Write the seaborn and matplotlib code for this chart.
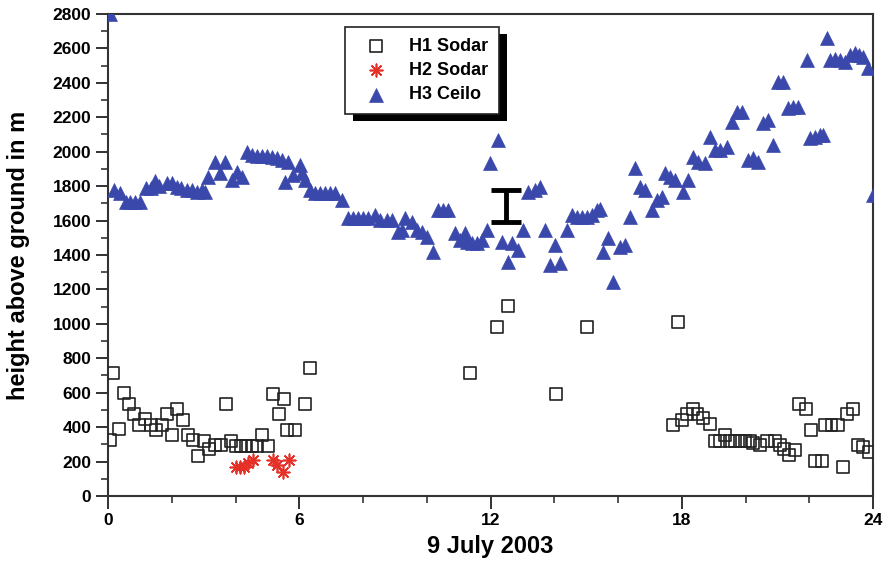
import numpy as np
import pandas as pd
import matplotlib
matplotlib.use("Agg")
import matplotlib.pyplot as plt
import seaborn as sns
from matplotlib.patches import Rectangle
from matplotlib.transforms import IdentityTransform
from matplotlib.ticker import MultipleLocator

# H3 ceilometer cloud-base heights (hour of day, metres)
h3_time = [0.05, 0.2, 0.38, 0.55, 0.7, 0.85, 1.0, 1.2, 1.35, 1.47, 1.6, 1.85, 2.0, 2.15, 2.3,
           2.48, 2.63, 2.8, 2.95, 3.05, 3.14, 3.36, 3.51, 3.67, 3.89, 4.05, 4.2, 4.36, 4.52,
           4.67, 4.83, 5.0, 5.15, 5.3, 5.46, 5.55, 5.65, 5.8, 6.02, 6.09, 6.18, 6.34, 6.49,
           6.65, 6.81, 6.96, 7.12, 7.34, 7.53, 7.69, 7.84, 8.0, 8.16, 8.38, 8.53, 8.75, 8.91,
           9.1, 9.22, 9.32, 9.54, 9.7, 9.85, 10.0, 10.2, 10.35, 10.5, 10.67, 10.89, 11.04,
           11.2, 11.26, 11.42, 11.58, 11.73, 11.89, 11.98, 12.24, 12.36, 12.55, 12.67, 12.86,
           13.02, 13.18, 13.4, 13.55, 13.71, 13.87, 14.02, 14.18, 14.4, 14.56, 14.71, 14.87,
           15.03, 15.18, 15.34, 15.45, 15.53, 15.69, 15.84, 16.06, 16.22, 16.38, 16.53, 16.69,
           16.85, 17.07, 17.22, 17.38, 17.47, 17.63, 17.79, 18.04, 18.2, 18.35, 18.5, 18.73,
           18.89, 19.04, 19.2, 19.42, 19.58, 19.73, 19.89, 20.08, 20.24, 20.39, 20.55, 20.7,
           20.86, 21.02, 21.18, 21.33, 21.49, 21.65, 21.93, 22.02, 22.18, 22.34, 22.43, 22.56,
           22.65, 22.81, 22.96, 23.12, 23.28, 23.44, 23.55, 23.69, 23.84, 24.0]
h3_height = [2800, 1778, 1760, 1708, 1708, 1708, 1708, 1790, 1790, 1830, 1800, 1818, 1818, 1795,
             1789, 1778, 1778, 1766, 1778, 1766, 1853, 1940, 1876, 1940, 1836, 1882, 1853, 1998,
             1981, 1975, 1975, 1975, 1969, 1963, 1952, 1824, 1940, 1865, 1923, 1876, 1836, 1778,
             1760, 1760, 1760, 1760, 1760, 1720, 1615, 1615, 1615, 1615, 1615, 1632, 1603, 1603,
             1603, 1534, 1545, 1615, 1592, 1545, 1534, 1505, 1417, 1661, 1661, 1661, 1528, 1487,
             1528, 1476, 1470, 1470, 1487, 1545, 1934, 2068, 1476, 1359, 1470, 1429, 1545, 1766,
             1778, 1795, 1545, 1342, 1458, 1353, 1545, 1632, 1621, 1621, 1621, 1632, 1661, 1670,
             1417, 1499, 1243, 1446, 1458, 1621, 1905, 1795, 1778, 1661, 1720, 1737, 1876, 1853,
             1836, 1766, 1836, 1969, 1940, 1934, 2085, 2010, 2010, 2027, 2173, 2231, 2231, 1952,
             1963, 1940, 2167, 2184, 2039, 2405, 2405, 2254, 2260, 2260, 2533, 2080, 2085, 2097,
             2097, 2661, 2533, 2539, 2533, 2521, 2562, 2574, 2562, 2550, 2486, 1749]

# H1 sodar layer heights
h1_time = [0.06, 0.16, 0.35, 0.5, 0.66, 0.82, 0.97, 1.16, 1.35, 1.5, 1.69, 1.85, 2.0, 2.16, 2.35,
           2.5, 2.67, 2.82, 3.01, 3.17, 3.36, 3.55, 3.7, 3.86, 4.02, 4.17, 4.33, 4.51, 4.67, 4.83,
           5.02, 5.18, 5.36, 5.52, 5.62, 5.87, 6.18, 6.34, 11.36, 12.2, 12.55, 14.05, 15.03,
           17.73, 17.88, 18.0, 18.16, 18.35, 18.5, 18.67, 18.89, 19.04, 19.2, 19.36, 19.52,
           19.67, 19.83, 19.99, 20.14, 20.24, 20.45, 20.67, 20.93, 21.08, 21.2, 21.36, 21.55,
           21.67, 21.9, 22.05, 22.18, 22.4, 22.5, 22.7, 22.9, 23.06, 23.18, 23.37, 23.53, 23.69,
           23.87]
h1_height = [325, 714, 389, 598, 534, 476, 412, 447, 412, 383, 412, 476, 354, 505, 441, 354, 325,
             232, 320, 273, 296, 296, 534, 320, 290, 290, 290, 290, 290, 354, 290, 592, 476, 563,
             383, 383, 534, 743, 714, 982, 1104, 592, 982, 412, 1011, 441, 476, 505, 476, 453,
             418, 320, 320, 354, 320, 320, 320, 320, 320, 308, 296, 320, 320, 296, 273, 238, 267,
             534, 505, 383, 203, 203, 412, 412, 412, 168, 476, 505, 296, 285, 256]

# H2 sodar layer heights
h2_time = [4.02, 4.14, 4.27, 4.4, 4.55, 5.18, 5.3, 5.49, 5.68]
h2_height = [168, 168, 168, 192, 209, 209, 180, 139, 209]

# typical uncertainty of the ceilometer heights
err_time = 12.49
err_center = 1685
err_half = 93

x_ticks = [0, 6, 12, 18, 24]
series_labels = ["H1 Sodar", "H2 Sodar", "H3 Ceilo"]

sns.set_style("ticks")
plt.rcParams["font.family"] = ["Liberation Sans", "DejaVu Sans"]

fig = plt.figure(figsize=(8.89, 5.64), dpi=100)
ax = fig.add_axes([0.1215, 0.1206, 0.8605, 0.8546])

df1 = pd.DataFrame({"t": h1_time, "h": h1_height})
df2 = pd.DataFrame({"t": h2_time, "h": h2_height})
df3 = pd.DataFrame({"t": h3_time, "h": h3_height})

sns.scatterplot(data=df1, x="t", y="h", ax=ax, marker="s", s=70, facecolor="none",
                edgecolor="#222222", linewidth=1.2, label=series_labels[0], zorder=3)
sns.scatterplot(data=df2, x="t", y="h", ax=ax, marker=(8, 2, 0), s=80, color="#e53027",
                edgecolor="#e53027", linewidth=1.2, label=series_labels[1], zorder=3)
sns.scatterplot(data=df3, x="t", y="h", ax=ax, marker="^", s=100, color="#3b48ab",
                edgecolor="#3b48ab", linewidth=0.5, label=series_labels[2], zorder=3)

ax.errorbar([err_time], [err_center], yerr=[err_half], fmt="none", ecolor="black",
            elinewidth=3.5, capsize=11, capthick=3.5, zorder=4)

ax.set_xlim(0, 24)
ax.set_ylim(0, 2800)
ax.set_xticks(x_ticks)
ax.xaxis.set_minor_locator(MultipleLocator(2))
ax.yaxis.set_major_locator(MultipleLocator(200))
ax.yaxis.set_minor_locator(MultipleLocator(100))
ax.tick_params(axis="both", which="major", direction="out", length=9, width=1.3, pad=3,
               labelsize=12.5, color="#222222", labelcolor="black", top=False, right=False)
ax.tick_params(axis="both", which="minor", direction="out", length=5, width=1.1,
               color="#222222", top=False, right=False)
for lab in ax.get_xticklabels() + ax.get_yticklabels():
    lab.set_fontweight("bold")

for sp in ax.spines.values():
    sp.set_visible(True)
    sp.set_linewidth(1.5)
    sp.set_color("#333333")

ax.set_xlabel("9 July 2003", fontsize=17, fontweight="bold", labelpad=5, color="black")
ax.set_ylabel("height above ground in m", fontsize=17, fontweight="bold", labelpad=16,
              color="black")

leg = ax.legend(loc="upper left", bbox_to_anchor=(0.31, 0.973), frameon=True,
                fancybox=False, framealpha=1, facecolor="white", borderpad=0.6,
                labelspacing=0.4, handletextpad=0.75, handlelength=2.2,
                prop={"weight": "bold", "size": 13}, borderaxespad=0)
leg.get_frame().set_edgecolor("#222222")
leg.get_frame().set_linewidth(1.2)
leg.set_zorder(6)
for txt in leg.get_texts():
    txt.set_color("black")

# solid drop shadow behind the legend box
fig.canvas.draw()
bb = leg.get_frame().get_window_extent()
shadow = Rectangle((bb.x0 + 8, bb.y0 - 7), bb.width, bb.height, transform=IdentityTransform(),
                   facecolor="black", edgecolor="none", zorder=5.5, clip_on=False)
ax.add_artist(shadow)

fig.savefig("out.png", dpi=100)
